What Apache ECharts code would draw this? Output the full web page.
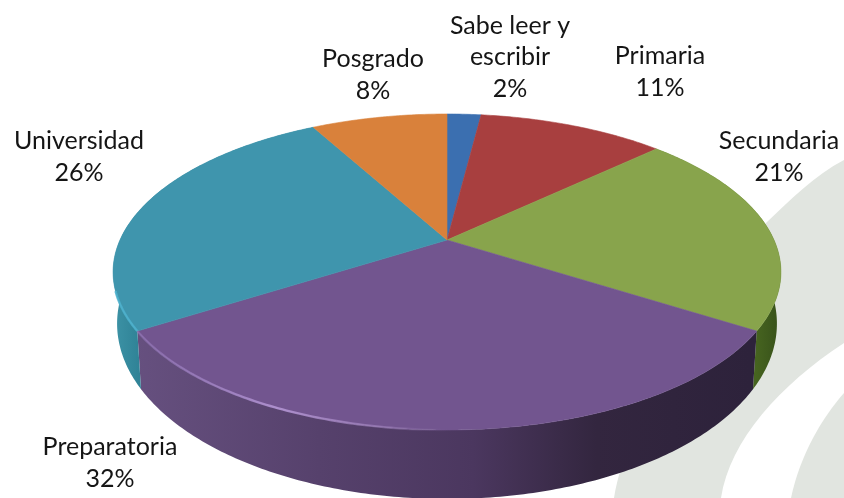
<!DOCTYPE html>
<html>
<head>
<meta charset="utf-8">
<style>html,body{margin:0;padding:0;background:#fff}#c{width:844px;height:498px}</style>
<script src="https://cdn.jsdelivr.net/npm/echarts@6/dist/echarts.min.js"></script>
</head>
<body>
<div id="c"></div>
<script>
const categories = ["Sabe leer y\nescribir", "Primaria", "Secundaria", "Preparatoria", "Universidad", "Posgrado"];
const percentages = [2, 11, 21, 32, 26, 8];
const topColors = ["#3b6fb0", "#a83f3f", "#88a44c", "#72558f", "#3f95ad", "#d9813b"];

const chart = echarts.init(document.getElementById('c'), null, {renderer: 'canvas'});
const total = percentages.reduce((a, b) => a + b, 0);
const G = echarts.graphic;
const hGrad = (stops, x0, x1) => new G.LinearGradient(x0, 0, x1, 0, stops.map(s => ({offset: s[0], color: s[1]})), true);

// Tilted-disc projection: a data angle on the pie becomes a point on screen.
const CX = 447, CY = 240, K = 0.2025, AX = 327, AY = 151.5;
function projectTop(theta) {
  const x = Math.sin(theta), y = Math.cos(theta), w = 1 + K * y;
  return [CX + AX * x / w, CY - AY * y / w];
}
function projectBottom(p) {
  return [CX + (p[0] - CX) * 0.988, p[1] + 58 + 0.11 * (p[1] - 330)];
}
function arc(a0, a1) {
  const n = Math.max(2, Math.ceil(Math.abs(a1 - a0) / 0.012)), pts = [];
  for (let i = 0; i <= n; i++) pts.push(projectTop(a0 + (a1 - a0) * i / n));
  return pts;
}
const startAngle = i => percentages.slice(0, i).reduce((a, b) => a + b, 0) / total * Math.PI * 2;

const rimFills = {
  2: hGrad([[0, '#4d6c22'], [1, '#37511a']], 745, 780),
  3: hGrad([[0, '#66507f'], [0.3, '#56416c'], [0.55, '#4b375f'], [0.75, '#33263f'], [1, '#2d223b']], 135, 750),
  4: hGrad([[0, '#3d93a6'], [1, '#2f8296']], 113, 140)
};
// Text block centres, in the same order as the categories
const labelCentres = [[510, 57], [660, 72], [779, 157], [110, 463], [79, 157], [373, 75]];

function renderSlice(params, api) {
  const i = params.dataIndex;
  const a0 = startAngle(i), a1 = a0 + api.value(0) / total * Math.PI * 2;
  const edge = arc(a0, a1);
  const children = [];
  if (rimFills[i]) {
    children.push({
      type: 'polygon', z2: 1,
      shape: {points: edge.concat(edge.map(projectBottom).reverse())},
      style: {fill: rimFills[i], stroke: null}
    });
  }
  children.push({
    type: 'polygon', z2: 2,
    shape: {points: [[CX, CY]].concat(edge)},
    style: {fill: topColors[i], stroke: topColors[i], lineWidth: 0.6}
  });
  if (i === 3) {
    const d = Math.PI / 180;
    children.push({
      type: 'polyline', z2: 3,
      shape: {points: arc(a1, a1 - 62 * d)},
      style: {fill: null, lineWidth: 2.4, stroke: new G.LinearGradient(135, 0, 450, 0, [
        {offset: 0, color: 'rgba(150,120,190,0.5)'},
        {offset: 0.45, color: 'rgba(176,146,208,0.95)'},
        {offset: 0.8, color: 'rgba(170,140,200,0.5)'},
        {offset: 1, color: 'rgba(130,100,160,0)'}
      ], true)}
    });
  }
  if (i === 4) {
    const d = Math.PI / 180;
    children.push({
      type: 'polyline', z2: 3,
      shape: {points: arc(a0, a0 + 14 * d)},
      style: {fill: null, lineWidth: 2.4, stroke: 'rgba(78,178,206,0.85)'}
    });
  }
  const c = labelCentres[i];
  children.push({
    type: 'text', z2: 5,
    style: {
      text: categories[i] + '\n' + api.value(0) + '%',
      x: c[0], y: c[1], align: 'center', verticalAlign: 'middle',
      fontFamily: 'Lato', fontSize: 25, lineHeight: 31.5, fill: '#151515'
    }
  });
  return {type: 'group', children};
}

function renderWatermark() {
  return {type: 'group', children: [
    {type: 'path', shape: {pathData: 'M844 160 C815 175 790 200 767 222 C700 290 630 410 614 498 L721 498 C730 440 780 385 844 343 Z', x: 614, y: 160, width: 230, height: 338, layout: 'cover'},
     style: {fill: '#e1e5e0'}},
    {type: 'path', shape: {pathData: 'M844 393 C822 418 800 455 791 498 L844 498 Z', x: 791, y: 393, width: 53, height: 105, layout: 'cover'},
     style: {fill: '#e1e5e0'}}
  ]};
}

chart.setOption({
  animation: false,
  backgroundColor: '#ffffff',
  series: [{
    type: 'custom',
    coordinateSystem: 'none',
    z: 1,
    silent: true,
    renderItem: renderWatermark,
    data: [0]
  }, {
    type: 'custom',
    coordinateSystem: 'none',
    z: 5,
    silent: true,
    renderItem: renderSlice,
    data: percentages.map((v, i) => ({name: categories[i], value: [v]}))
  }]
});
</script>
</body>
</html>
